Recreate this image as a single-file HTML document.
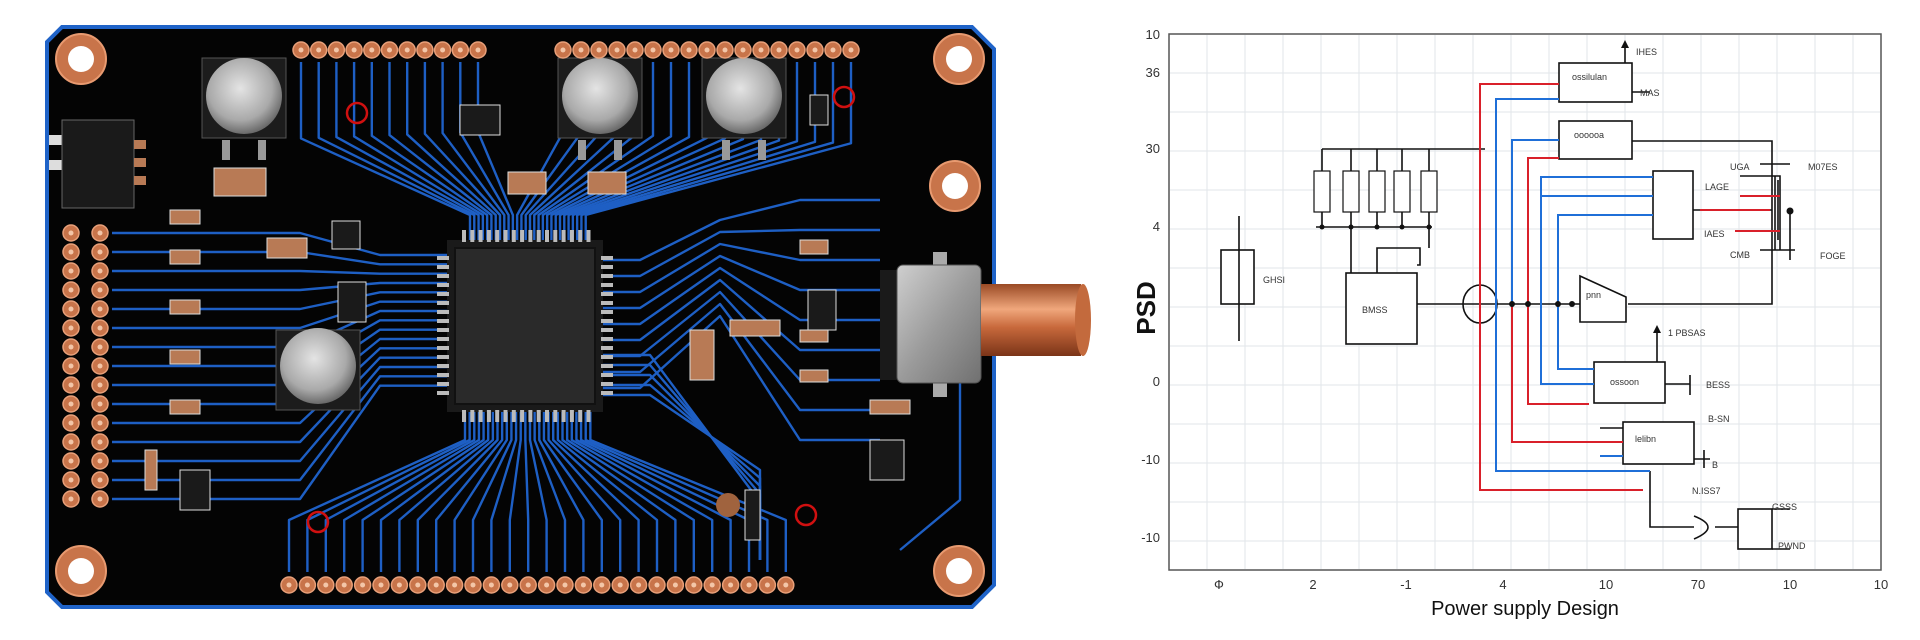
<!DOCTYPE html>
<html><head><meta charset="utf-8"><style>
html,body{margin:0;padding:0;background:#fff;width:1920px;height:640px;overflow:hidden}
svg{display:block}
text{font-family:"Liberation Sans",sans-serif}
</style></head><body>
<svg id="s" width="1920" height="640" viewBox="0 0 1920 640" xmlns="http://www.w3.org/2000/svg">
<defs>
<radialGradient id="cap" cx="45%" cy="40%" r="60%"><stop offset="0" stop-color="#e4e4e4"/><stop offset="0.7" stop-color="#a9a9a9"/><stop offset="1" stop-color="#6a6a6a"/></radialGradient>
<linearGradient id="cu" x1="0" y1="0" x2="0" y2="1"><stop offset="0" stop-color="#9a4a25"/><stop offset="0.35" stop-color="#f0a77c"/><stop offset="0.6" stop-color="#c8693c"/><stop offset="1" stop-color="#7a3418"/></linearGradient>
<linearGradient id="met" x1="0" y1="0" x2="1" y2="1"><stop offset="0" stop-color="#cfcfcf"/><stop offset="0.5" stop-color="#9b9b9b"/><stop offset="1" stop-color="#707070"/></linearGradient>
</defs>
<path d="M62,27 L972,27 L994,49 L994,585 L972,607 L62,607 L47,592 L47,42 Z" fill="#040404" stroke="#1f63c8" stroke-width="4"/>
<g id="traces" stroke="#1e5fc4" stroke-width="2.4" fill="none" stroke-linejoin="round"></g>
<g id="parts"></g>
<rect x="447" y="240" width="156" height="172" fill="#1a1a1a"/>
<rect x="455" y="248" width="140" height="156" fill="#2a2a2a" stroke="#111" stroke-width="2"/>
<g id="pins"></g>
<g>
<rect x="202" y="58" width="84" height="80" fill="#1c1c1c" stroke="#555"/>
<circle cx="244" cy="96" r="38" fill="url(#cap)"/>
<rect x="558" y="58" width="84" height="80" fill="#1c1c1c" stroke="#555"/>
<circle cx="600" cy="96" r="38" fill="url(#cap)"/>
<rect x="702" y="58" width="84" height="80" fill="#1c1c1c" stroke="#555"/>
<circle cx="744" cy="96" r="38" fill="url(#cap)"/>
<rect x="276" y="330" width="84" height="80" fill="#1c1c1c" stroke="#555"/>
<circle cx="318" cy="366" r="38" fill="url(#cap)"/>
<rect x="222" y="140" width="8" height="20" fill="#999"/><rect x="258" y="140" width="8" height="20" fill="#999"/>
<rect x="578" y="140" width="8" height="20" fill="#999"/><rect x="614" y="140" width="8" height="20" fill="#999"/>
<rect x="722" y="140" width="8" height="20" fill="#999"/><rect x="758" y="140" width="8" height="20" fill="#999"/>
<rect x="214" y="168" width="52" height="28" fill="#b87a55" stroke="#ddd"/>
</g>
<rect x="49" y="135" width="14" height="10" fill="#ddd"/><rect x="49" y="160" width="14" height="10" fill="#ddd"/>
<rect x="62" y="120" width="72" height="88" fill="#1a1a1a" stroke="#666"/>
<rect x="134" y="140" width="12" height="9" fill="#b87a55"/><rect x="134" y="158" width="12" height="9" fill="#b87a55"/><rect x="134" y="176" width="12" height="9" fill="#b87a55"/>
<rect x="880" y="270" width="22" height="110" fill="#1a1a1a"/>
<rect x="933" y="252" width="14" height="14" fill="#aaa"/><rect x="933" y="383" width="14" height="14" fill="#aaa"/>
<rect x="897" y="265" width="84" height="118" rx="6" fill="url(#met)" stroke="#555"/>
<rect x="981" y="284" width="100" height="72" fill="url(#cu)"/>
<ellipse cx="1083" cy="320" rx="8" ry="36" fill="#c36a3d"/>
<g fill="#c8744a" stroke="#e89a70" stroke-width="2">
<circle cx="81" cy="59" r="25"/><circle cx="959" cy="59" r="25"/><circle cx="81" cy="571" r="25"/><circle cx="959" cy="571" r="25"/><circle cx="955" cy="186" r="25"/>
</g>
<g fill="#fff"><circle cx="81" cy="59" r="13"/><circle cx="959" cy="59" r="13"/><circle cx="81" cy="571" r="13"/><circle cx="959" cy="571" r="13"/><circle cx="955" cy="186" r="13"/></g>
<g fill="none" stroke="#d01010" stroke-width="2.5">
<circle cx="357" cy="113" r="10"/><circle cx="844" cy="97" r="10"/><circle cx="318" cy="522" r="10"/><circle cx="806" cy="515" r="10"/>
</g>
<g id="hdr"></g>

<rect x="1169" y="34" width="712" height="536" fill="#fff" stroke="#555" stroke-width="1.5"/>
<g id="grid" stroke="#e2e6ea" stroke-width="1"></g>
<g font-size="13" fill="#333" text-anchor="end">
<text x="1160" y="39">10</text><text x="1160" y="77">36</text><text x="1160" y="153">30</text><text x="1160" y="231">4</text><text x="1160" y="386">0</text><text x="1160" y="464">-10</text><text x="1160" y="542">-10</text>
</g>
<g font-size="13" fill="#333" text-anchor="middle">
<text x="1219" y="589">Ф</text><text x="1313" y="589">2</text><text x="1406" y="589">-1</text><text x="1503" y="589">4</text><text x="1606" y="589">10</text><text x="1698" y="589">70</text><text x="1790" y="589">10</text><text x="1881" y="589">10</text>
</g>
<text x="1525" y="615" font-size="20" text-anchor="middle" fill="#111">Power supply Design</text>
<text transform="translate(1155,308) rotate(-90)" font-size="26" font-weight="bold" text-anchor="middle" fill="#111">PSD</text>
<g stroke="#111" stroke-width="1.6" fill="none">
<rect x="1559" y="63" width="73" height="39" fill="#fff"/>
<rect x="1559" y="121" width="73" height="38" fill="#fff"/>
<rect x="1653" y="171" width="40" height="68" fill="#fff"/>
<rect x="1594" y="362" width="71" height="41" fill="#fff"/>
<rect x="1623" y="422" width="71" height="42" fill="#fff"/>
<rect x="1346" y="273" width="71" height="71" fill="#fff"/>
<rect x="1221" y="250" width="33" height="54" fill="#fff"/>
<rect x="1738" y="509" width="34" height="40" fill="#fff"/>
<path d="M1580,276 L1626,297 L1626,322 L1580,322 Z" fill="#fff"/>
<ellipse cx="1480" cy="304" rx="17" ry="19"/>
<path d="M1625,63 V45"/><path d="M1632,92 H1650"/>
<path d="M1632,141 H1772 V304 H1628"/>
<path d="M1417,304 H1580"/>
<path d="M1322,149 H1485"/><path d="M1316,227 H1432"/>
<path d="M1322,149 V171 M1351,149 V171 M1377,149 V171 M1402,149 V171 M1429,149 V171"/>
<path d="M1322,212 V227 M1351,212 V227 M1377,212 V227 M1402,212 V227 M1429,212 V227"/>
<path d="M1351,227 V273 M1377,273 V248 H1420 V265 H1417 M1429,227 V248"/>
<path d="M1239,216 V341"/>
<path d="M1657,362 V330"/><path d="M1665,384 H1690 M1690,375 V395"/>
<path d="M1600,428 H1623 M1694,459 H1710 M1704,450 V468"/>
<path d="M1693,210 H1772 M1760,164 H1790 M1740,176 H1780 V250 M1775,176 V250 M1760,250 H1795 M1778,180 V240 M1790,210 V260"/>
<path d="M1650,471 V527 H1694 M1715,527 H1738 M1772,509 H1790 M1772,549 H1790"/>
<path d="M1694,516 Q1722,527 1694,539"/>
</g>
<g fill="none" stroke-width="2">
<path d="M1559,84 H1480 V490 H1643" stroke="#d9202a"/>
<path d="M1559,99 H1496 V471 H1650" stroke="#1f6fd8"/>
<path d="M1559,140 H1512 V304" stroke="#1f6fd8"/>
<path d="M1512,304 V442 H1623" stroke="#d9202a"/>
<path d="M1559,158 H1528 V404 H1589" stroke="#d9202a"/>
<path d="M1653,177 H1541 V384 H1594" stroke="#1f6fd8"/>
<path d="M1653,196 H1541" stroke="#1f6fd8"/>
<path d="M1653,215 H1558 V369 H1594" stroke="#1f6fd8"/>
<path d="M1600,456 H1623" stroke="#1f6fd8"/>
<path d="M1740,196 H1780 M1735,231 H1780" stroke="#d9202a"/>
<path d="M1700,210 H1770" stroke="#d9202a"/>
</g>
<g fill="#fff" stroke="#111" stroke-width="1.2">
<rect x="1314" y="171" width="16" height="41"/><rect x="1343" y="171" width="16" height="41"/><rect x="1369" y="171" width="16" height="41"/><rect x="1394" y="171" width="16" height="41"/><rect x="1421" y="171" width="16" height="41"/>
</g>
<g fill="#111"><circle cx="1322" cy="227" r="2.5"/><circle cx="1351" cy="227" r="2.5"/><circle cx="1377" cy="227" r="2.5"/><circle cx="1402" cy="227" r="2.5"/><circle cx="1429" cy="227" r="2.5"/>
<circle cx="1512" cy="304" r="3"/><circle cx="1528" cy="304" r="3"/><circle cx="1558" cy="304" r="3"/><circle cx="1572" cy="304" r="3"/><circle cx="1790" cy="211" r="3.5"/>
<path d="M1621,48 L1625,40 L1629,48 Z"/><path d="M1653,333 L1657,325 L1661,333 Z"/></g>
<g font-size="9" fill="#333">
<text x="1636" y="55">IHES</text><text x="1640" y="96">MAS</text><text x="1572" y="80">ossilulan</text><text x="1574" y="138">oooooa</text>
<text x="1808" y="170">M07ES</text><text x="1730" y="170">UGA</text><text x="1705" y="190">LAGE</text><text x="1704" y="237">IAES</text><text x="1730" y="258">CMB</text><text x="1820" y="259">FOGE</text>
<text x="1362" y="313">BMSS</text><text x="1263" y="283">GHSI</text><text x="1668" y="336">1 PBSAS</text><text x="1706" y="388">BESS</text><text x="1610" y="385">ossoon</text>
<text x="1708" y="422">B-SN</text><text x="1712" y="468">B</text><text x="1692" y="494">N.ISS7</text><text x="1772" y="510">GSSS</text><text x="1778" y="549">PWND</text><text x="1635" y="442">lelibn</text><text x="1586" y="298">pnn</text>
</g>
</svg>
<script>
(function(){
var NS="http://www.w3.org/2000/svg";
function el(p,t,a){var e=document.createElementNS(NS,t);for(var k in a)e.setAttribute(k,a[k]);document.getElementById(p).appendChild(e);return e;}
for(var x=1207;x<1881;x+=38)el("grid","line",{x1:x,y1:35,x2:x,y2:569});
for(var y=73;y<570;y+=39)el("grid","line",{x1:1170,y1:y,x2:1880,y2:y});
var tp=[],bt=[],lf=[];
for(var x=301;x<=478;x+=17.7)tp.push(x);
for(var x=563;x<=852;x+=18)tp.push(x);
for(var x=289;x<=786;x+=18.4)bt.push(x);
for(var y=233;y<=516;y+=19)lf.push(y);
tp.forEach(function(px,i){var cx=470+i*(120/tp.length);el("traces","path",{d:"M"+cx+",240 V215 L"+px+","+(130+Math.abs(px-cx)*0.05)+" V62"});});
bt.forEach(function(px,i){var cx=465+i*(130/bt.length);el("traces","path",{d:"M"+cx+",412 V440 L"+px+",520 V572"});});
lf.forEach(function(py,i){var cy=255+i*(140/lf.length);el("traces","path",{d:"M447,"+cy+" H380 L300,"+py+" H112"});});
for(var i=0;i<9;i++){var cy=260+i*16;el("traces","path",{d:"M603,"+cy+" H640 L720,"+(220+i*12)+" L800,"+(200+i*30)+" H880"});}
for(var i=0;i<5;i++){el("traces","path",{d:"M603,"+(395-i*10)+" H650 L760,"+(470+i*8)+" V560"});}
el("traces","path",{d:"M960,380 V500 L900,550"});
for(var i=0;i<16;i++){var o=462+i*8.3;
el("pins","rect",{x:o,y:230,width:4,height:12,fill:"#bbb"});
el("pins","rect",{x:o,y:410,width:4,height:12,fill:"#bbb"});
var v=256+i*9;
el("pins","rect",{x:437,y:v,width:12,height:4,fill:"#bbb"});
el("pins","rect",{x:601,y:v,width:12,height:4,fill:"#bbb"});}
function pad(x,y){el("hdr","circle",{cx:x,cy:y,r:8,fill:"#c8744a",stroke:"#e8a07a","stroke-width":1.5});el("hdr","circle",{cx:x,cy:y,r:2.5,fill:"#f3c6a8"});}
tp.forEach(function(x){pad(x,50)});bt.forEach(function(x){pad(x,585)});
lf.forEach(function(y){pad(71,y);pad(100,y)});
var parts=[[267,238,40,20,"#b87a55"],[508,172,38,22,"#b87a55"],[588,172,38,22,"#b87a55"],[332,221,28,28,"#1a1a1a"],[338,282,28,40,"#1a1a1a"],[180,470,30,40,"#1a1a1a"],[870,440,34,40,"#1a1a1a"],[460,105,40,30,"#1a1a1a"],[810,95,18,30,"#1a1a1a"],[690,330,24,50,"#b87a55"],[730,320,50,16,"#b87a55"],[800,240,28,14,"#b87a55"],[870,400,40,14,"#b87a55"],[808,290,28,40,"#1a1a1a"],[745,490,15,50,"#1a1a1a"],[145,450,12,40,"#b87a55"],[170,210,30,14,"#b87a55"],[170,250,30,14,"#b87a55"],[170,300,30,14,"#b87a55"],[170,350,30,14,"#b87a55"],[170,400,30,14,"#b87a55"],[800,330,28,12,"#b87a55"],[800,370,28,12,"#b87a55"]];
parts.forEach(function(p){el("parts","rect",{x:p[0],y:p[1],width:p[2],height:p[3],fill:p[4],stroke:"#ddd","stroke-width":1});});
el("parts","circle",{cx:728,cy:505,r:12,fill:"#a0633e"});
})();
</script>
</body></html>
